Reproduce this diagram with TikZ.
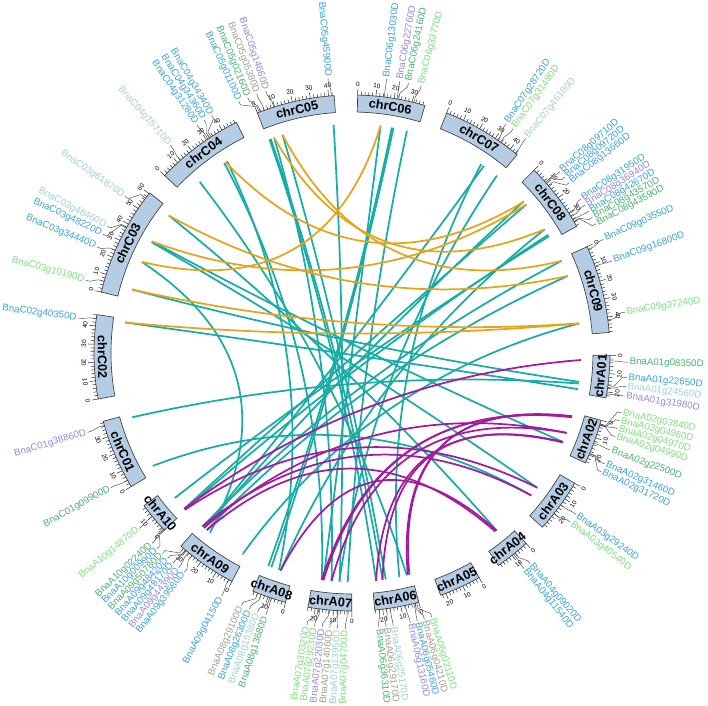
\documentclass[tikz,border=0pt]{standalone}
\usepackage{fontspec}
\setmainfont{Liberation Sans}
\definecolor{cblue}{RGB}{58,160,232}
\definecolor{cpur}{RGB}{150,135,230}
\definecolor{cgrn}{RGB}{70,180,110}
\definecolor{clgr}{RGB}{125,225,125}
\definecolor{cgry}{RGB}{160,160,145}
\definecolor{cltl}{RGB}{160,210,205}
\definecolor{lteal}{RGB}{24,172,166}
\definecolor{lorg}{RGB}{232,163,25}
\definecolor{lmag}{RGB}{165,25,160}
\definecolor{bandc}{RGB}{180,205,228}
\def\SCL{0.4075}
\def\RIN{241}\def\ROUT{258}\def\RLK{229}
\def\RTMAJ{264}\def\RTMIN{261.5}\def\RTL{265}
\def\RLA{264}\def\RLB{272}\def\RLC{276}\def\RLT{277.5}
\def\KK{0.3}
\newcommand\chrom[3]{%
  \expandafter\xdef\csname st@#1\endcsname{#2}%
  \pgfmathsetmacro\ea{#2-#3*\SCL}%
  \draw[band] (#2:\RIN) arc[start angle=#2,end angle=\ea,radius=\RIN] -- (\ea:\ROUT) arc[start angle=\ea,end angle=#2,radius=\ROUT] -- cycle;
  \pgfmathtruncatemacro\mx{2*floor(#3/2)}%
  \foreach \tv in {0,2,...,\mx}{%
    \pgfmathsetmacro\ta{#2-\tv*\SCL}%
    \pgfmathtruncatemacro\ismaj{mod(\tv,10)==0 ? 1 : 0}%
    \ifnum\ismaj=1
      \draw[tk] (\ta:\ROUT) -- (\ta:\RTMAJ);
      \pgfmathsetmacro\tn{\ta<-180 ? \ta+360 : \ta}%
      \pgfmathsetmacro\rot{\tn>=0 ? \tn-90 : \tn+90}%
      \ifdim\tn pt<0pt \def\anc{north}\else\def\anc{south}\fi
      \node[tl,rotate=\rot,anchor=\anc] (t#1-\tv) at (\ta:\RTL) {\tv};
    \else
      \draw[tk] (\ta:\ROUT) -- (\ta:\RTMIN);
    \fi
  }%
  \pgfmathsetmacro\ma{#2-#3*\SCL/2}%
  \pgfmathsetmacro\mn{\ma<-180 ? \ma+360 : \ma}%
  \pgfmathsetmacro\mrot{\mn>=0 ? \mn-90 : \mn+90}%
  \node[cn,rotate=\mrot] (n#1) at (\ma:249.5) {chr#1};
}
\newcommand\gene[6]{%
  \pgfmathsetmacro\ga{\csname st@#2\endcsname-#3*\SCL}%
  \expandafter\xdef\csname g@#1\endcsname{\ga}%
  \coordinate (#1) at (\ga:\RLK);
  \draw[lead] (\ga:\ROUT) -- (\ga:\RLA) -- (#4:\RLB) -- (#4:\RLC);
  \pgfmathsetmacro\cc{cos(#4)}%
  \ifdim\cc pt>0pt
    \node[gl,text=#5,rotate=#4,anchor=west] (L#1) at (#4:\RLT) {#6};
  \else
    \pgfmathsetmacro\rr{#4+180}%
    \node[gl,text=#5,rotate=\rr,anchor=east] (L#1) at (#4:\RLT) {#6};
  \fi
}
\newcommand\lnk[3]{%
  \pgfmathsetmacro\aA{\csname g@#1\endcsname}%
  \pgfmathsetmacro\aB{\csname g@#2\endcsname}%
  \pgfmathsetmacro\xA{\RLK*cos(\aA)}\pgfmathsetmacro\yA{\RLK*sin(\aA)}%
  \pgfmathsetmacro\xB{\RLK*cos(\aB)}\pgfmathsetmacro\yB{\RLK*sin(\aB)}%
  \pgfmathsetmacro\xQ{\KK*(\xA+\xB)/2}\pgfmathsetmacro\yQ{\KK*(\yA+\yB)/2}%
  \pgfmathsetmacro\xC{\xA+2/3*(\xQ-\xA)}\pgfmathsetmacro\yC{\yA+2/3*(\yQ-\yA)}%
  \pgfmathsetmacro\xD{\xB+2/3*(\xQ-\xB)}\pgfmathsetmacro\yD{\yB+2/3*(\yQ-\yB)}%
  \draw[#3] (#1) .. controls (\xC,\yC) and (\xD,\yD) .. (#2);
}
\begin{document}
\begin{tikzpicture}[x=0.75pt,y=0.75pt,
  band/.style={draw=black!75,fill=bandc,line width=0.5pt},
  tk/.style={draw=black!80,line width=0.4pt},
  lead/.style={draw=black!70,line width=0.35pt},
  tl/.style={font=\fontsize{4.8}{5}\selectfont,inner sep=0.6pt},
  cn/.style={font=\fontsize{9.5}{10}\selectfont\bfseries,inner sep=0pt},
  gl/.style={font=\fontsize{7.3}{8}\selectfont,inner sep=0pt},
  linkT/.style={draw=lteal,line width=1.3pt},
  linkO/.style={draw=lorg,line width=1.3pt},
  linkM/.style={draw=lmag,line width=1.3pt}]
\useasboundingbox (-352,-353) rectangle (356,353);
\chrom{C05}{111.52}{43.1}
\chrom{C06}{88.74}{37.2}
\chrom{C07}{68.48}{44.8}
\chrom{C08}{45.12}{38.5}
\chrom{C09}{24.33}{48.5}
\chrom{A01}{-0.53}{23.3}
\chrom{A02}{-15.12}{24.8}
\chrom{A03}{-30.33}{29.8}
\chrom{A04}{-47.57}{19.2}
\chrom{A05}{-60.49}{23.1}
\chrom{A06}{-75.0}{24.4}
\chrom{A07}{-90.04}{24.0}
\chrom{A08}{-104.92}{18.9}
\chrom{A09}{-117.72}{33.9}
\chrom{A10}{-136.63}{17.4}
\chrom{C01}{-148.82}{38.8}
\chrom{C02}{-169.73}{46.2}
\chrom{C03}{166.34}{60.6}
\chrom{C04}{136.55}{48.9}
% genes
\gene{c5a}{C05}{1.0}{114.2}{cblue}{BnaC05g01100D}
\gene{c5b}{C05}{1.8}{112.2}{cgrn}{BnaC05g02160D}
\gene{c5c}{C05}{4.0}{110.2}{cgry}{BnaC05g05380D}
\gene{c5d}{C05}{9.5}{108.2}{cpur}{BnaC05g14660D}
\gene{c5e}{C05}{41.5}{95.0}{cblue}{BnaC05g45900D}
\gene{c6a}{C06}{14.5}{82.8}{cblue}{BnaC06g13030D}
\gene{c6b}{C06}{21.5}{80.0}{cpur}{BnaC06g22760D}
\gene{c6c}{C06}{22.5}{78.2}{cgrn}{BnaC06g24160D}
\gene{c6d}{C06}{31.0}{75.5}{clgr}{BnaC06g33770D}
\gene{c7a}{C07}{31.5}{56.1}{cblue}{BnaC07g28720D}
\gene{c7b}{C07}{33.5}{54.3}{clgr}{BnaC07g31490D}
\gene{c7c}{C07}{43.5}{51.0}{cltl}{BnaC07g46180D}
\gene{c8a}{C08}{9.0}{41.1}{cblue}{BnaC08g09710D}
\gene{c8b}{C08}{9.2}{39.6}{cblue}{BnaC08g09720D}
\gene{c8c}{C08}{11.5}{38.1}{cblue}{BnaC08g13660D}
\gene{c8d}{C08}{30.5}{33.9}{cblue}{BnaC08g31950D}
\gene{c8e}{C08}{32.5}{32.4}{cpur}{BnaC08g36940D}
\gene{c8f}{C08}{34.5}{30.9}{cblue}{BnaC08g42670D}
\gene{c8g}{C08}{35.5}{29.4}{cgrn}{BnaC08g43570D}
\gene{c8h}{C08}{35.7}{27.9}{cgrn}{BnaC08g43590D}
\gene{c9a}{C09}{1.5}{24.3}{cblue}{BnaC09g03550D}
\gene{c9b}{C09}{11.5}{19.5}{cblue}{BnaC09g16800D}
\gene{c9c}{C09}{41.5}{8.5}{clgr}{BnaC09g37240D}
\gene{a1a}{A01}{3.0}{-1.9}{cgrn}{BnaA01g08350D}
\gene{a1b}{A01}{16.5}{-5.1}{cblue}{BnaA01g22650D}
\gene{a1c}{A01}{17.5}{-7.0}{cltl}{BnaA01g24560D}
\gene{a1d}{A01}{21.0}{-9.0}{cpur}{BnaA01g31980D}
\gene{a2a}{A02}{2.2}{-12.5}{clgr}{BnaA02g03840D}
\gene{a2b}{A02}{2.6}{-14.2}{clgr}{BnaA02g04960D}
\gene{a2c}{A02}{2.7}{-15.9}{clgr}{BnaA02g04970D}
\gene{a2d}{A02}{2.8}{-17.6}{clgr}{BnaA02g04990D}
\gene{a2e}{A02}{13.0}{-20.6}{cgrn}{BnaA02g22500D}
\gene{a2f}{A02}{19.0}{-23.7}{cblue}{BnaA02g31460D}
\gene{a2g}{A02}{19.3}{-25.5}{cblue}{BnaA02g31720D}
\gene{a3a}{A03}{14}{-35.8}{cblue}{BnaA03g29240D}
\gene{a3b}{A03}{20}{-37.8}{clgr}{BnaA03g40540D}
\gene{a4a}{A04}{8.0}{-49.8}{cblue}{BnaA04g09020D}
\gene{a4b}{A04}{9.0}{-51.4}{cblue}{BnaA04g11540D}
\gene{a6a}{A06}{1.2}{-73.2}{clgr}{BnaA06g02110D}
\gene{a6b}{A06}{2.2}{-74.8}{cgry}{BnaA06g04210D}
\gene{a6c}{A06}{2.8}{-76.3}{cblue}{BnaA06g05460D}
\gene{a6d}{A06}{7.5}{-77.8}{cpur}{BnaA06g13160D}
\gene{a6e}{A06}{16}{-81.4}{cltl}{BnaA06g25170D}
\gene{a6f}{A06}{18}{-82.9}{cgry}{BnaA06g29170D}
\gene{a6g}{A06}{22}{-84.4}{cgrn}{BnaA06g36310D}
\gene{a7a}{A07}{2.5}{-91.4}{clgr}{BnaA07g04700D}
\gene{a7b}{A07}{7.5}{-93.0}{cltl}{BnaA07g13950D}
\gene{a7c}{A07}{7.7}{-94.6}{cgry}{BnaA07g14060D}
\gene{a7d}{A07}{12.5}{-96.2}{cpur}{BnaA07g22030D}
\gene{a7e}{A07}{17.5}{-97.8}{clgr}{BnaA07g29230D}
\gene{a7f}{A07}{18.5}{-99.4}{clgr}{BnaA07g30320D}
\gene{a8a}{A08}{8}{-108.2}{cgrn}{BnaA08g13680D}
\gene{a8b}{A08}{9}{-110.0}{cltl}{BnaA08g15380D}
\gene{a8c}{A08}{14}{-111.8}{cblue}{BnaA08g26300D}
\gene{a8d}{A08}{16}{-113.6}{cgry}{BnaA08g29100D}
\gene{a9a}{A09}{2}{-118.2}{cblue}{BnaA09g04150D}
\gene{a9b}{A09}{26}{-127.4}{cblue}{BnaA09g39580D}
\gene{a9c}{A09}{28.5}{-128.9}{cpur}{BnaA09g44390D}
\gene{a9d}{A09}{30.5}{-130.4}{cblue}{BnaA09g48170D}
\gene{a9e}{A09}{30.7}{-131.9}{cblue}{BnaA09g48420D}
\gene{a9f}{A09}{32}{-133.4}{cgrn}{BnaA09g50780D}
\gene{a10a}{A10}{0.5}{-134.9}{cblue}{BnaA10g00990D}
\gene{a10b}{A10}{1.2}{-136.4}{cgrn}{BnaA10g02240D}
\gene{a10c}{A10}{10}{-140.5}{clgr}{BnaA10g14870D}
\gene{c1a}{C01}{4}{-150.8}{cgrn}{BnaC01g09900D}
\gene{c1b}{C01}{36.5}{-163.3}{cpur}{BnaC01g38860D}
\gene{c2a}{C02}{44}{172.7}{cblue}{BnaC02g40350D}
\gene{c3a}{C03}{6}{164.7}{clgr}{BnaC03g10190D}
\gene{c3b}{C03}{24}{157.4}{cblue}{BnaC03g34440D}
\gene{c3c}{C03}{37.5}{154.5}{cblue}{BnaC03g48220D}
\gene{c3d}{C03}{38}{152.6}{cltl}{BnaC03g48460D}
\gene{c3e}{C03}{57}{145.4}{cltl}{BnaC03g61870D}
\gene{c4a}{C04}{12}{131.2}{cltl}{BnaC04g15710D}
\gene{c4b}{C04}{31}{124.2}{cblue}{BnaC04g31280D}
\gene{c4c}{C04}{32}{122.4}{cblue}{BnaC04g34360D}
\gene{c4d}{C04}{33}{120.6}{cblue}{BnaC04g34340D}
% links teal
\lnk{c5a}{a6g}{linkT}
\lnk{c5b}{a6f}{linkT}
\lnk{c5c}{a7d}{linkT}
\lnk{c5d}{a6e}{linkT}
\lnk{c5e}{a7b}{linkT}
\lnk{c6a}{a7e}{linkT}
\lnk{c6b}{a8d}{linkT}
\lnk{c6c}{a8c}{linkT}
\lnk{c6d}{a7a}{linkT}
\lnk{c7a}{a6d}{linkT}
\lnk{c7b}{a9e}{linkT}
\lnk{c7c}{a7c}{linkT}
\lnk{c8a}{a9d}{linkT}
\lnk{c8c}{a10b}{linkT}
\lnk{c8d}{a8a}{linkT}
\lnk{c8f}{a10a}{linkT}
\lnk{c8g}{a10c}{linkT}
\lnk{c9a}{a9f}{linkT}
\lnk{c9b}{a9c}{linkT}
\lnk{c9c}{a9a}{linkT}
\lnk{c3a}{a1b}{linkT}
\lnk{c3b}{a9b}{linkT}
\lnk{c3c}{a3a}{linkT}
\lnk{c3e}{a4a}{linkT}
\lnk{c3d}{a2f}{linkT}
\lnk{c2a}{a1d}{linkT}
\lnk{c1b}{a1c}{linkT}
\lnk{c1a}{a3b}{linkT}
\lnk{c4a}{a6c}{linkT}
\lnk{c4d}{a8b}{linkT}
\lnk{c4b}{a7f}{linkT}
% orange
\lnk{c3d}{c8c}{linkO}
\lnk{c3a}{c9c}{linkO}
\lnk{c2a}{c9c}{linkO}
\lnk{c4c}{c8b}{linkO}
\lnk{c5c}{c8d}{linkO}
\lnk{c3e}{c9b}{linkO}
\lnk{c6a}{c3b}{linkO}
\lnk{c5d}{c9a}{linkO}
% magenta
\lnk{a1a}{a10b}{linkM}
\lnk{a2a}{a6a}{linkM}
\lnk{a2b}{a6b}{linkM}
\lnk{a2c}{a7e}{linkM}
\lnk{a2d}{a7f}{linkM}
\lnk{a2e}{a9e}{linkM}
\lnk{a2f}{a6f}{linkM}
\lnk{a2g}{a6g}{linkM}
\lnk{a4a}{a8a}{linkM}
\lnk{a4b}{a9c}{linkM}
\lnk{a3a}{a10a}{linkM}
\lnk{a2e}{a7d}{linkM}
\lnk{a3b}{a9f}{linkM}
\end{tikzpicture}
\end{document}
